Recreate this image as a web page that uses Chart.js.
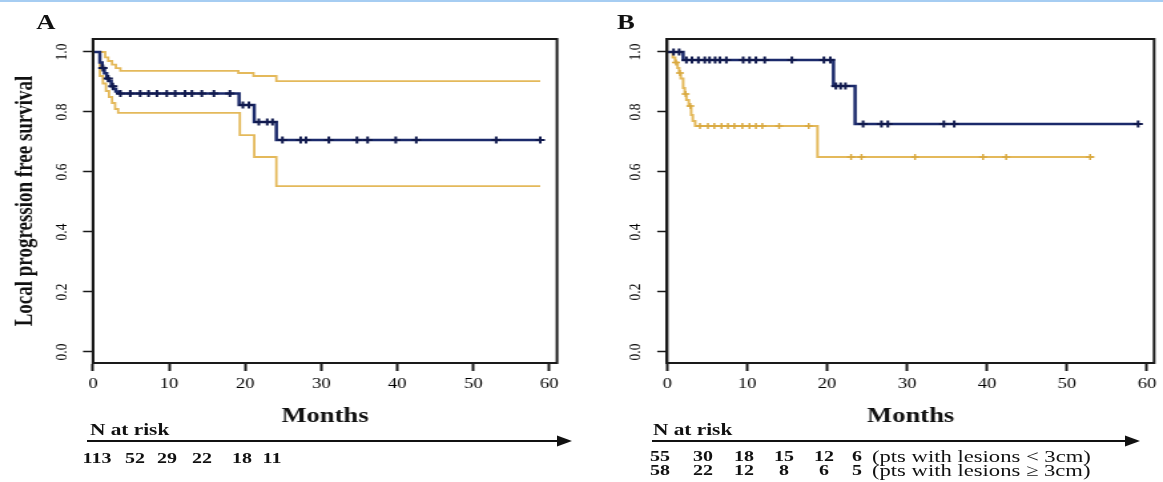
<!DOCTYPE html>
<html>
<head>
<meta charset="utf-8">
<title>Local progression free survival</title>
<script src="https://cdn.jsdelivr.net/npm/chart.js@4.4.0/dist/chart.umd.min.js"></script>
<style>
    body { margin: 0; background: #fff; }
    #page { position: relative; width: 1163px; height: 482px; overflow: hidden; background: #fff; }
    #topline { position: absolute; left: 0; top: 0; width: 1163px; height: 2px; background: #a6cdf2; }
    /* the source figure is stretched horizontally, so draw narrow and scale it out */
    #stretch { position: absolute; left: 0; top: 0; width: 874px; height: 482px; transform-origin: 0 0; }
    #stretch canvas { position: absolute; top: 0; }
    .lbl { position: absolute; white-space: nowrap; font-family: "Liberation Serif", "Times New Roman", serif; color: #111; line-height: 1; }
</style>
</head>
<body>
<div id="page">
    <div id="stretch">
        <canvas id="chartA" width="436" height="430"></canvas>
        <canvas id="chartB" width="438" height="430"></canvas>
        <svg id="arrows" width="874" height="482" style="position:absolute;left:0;top:0"></svg>
    </div>
    <div id="topline"></div>
</div>
<script>
// ---- values ----
const monthTicks = [0, 10, 20, 30, 40, 50, 60];
const survTicks = [0, 0.2, 0.4, 0.6, 0.8, 1.0];

// Panel A - all patients, KM estimate with confidence band
const aTimes = [0, 0.9, 1.2, 1.5, 1.8, 2.1, 2.4, 2.7, 3.0, 3.3, 19.2, 21.2, 24.1, 58.8];
const aSurv  = [1.0, 0.965, 0.947, 0.929, 0.912, 0.903, 0.886, 0.877, 0.868, 0.862, 0.823, 0.767, 0.707, 0.707];
const aUpperTimes = [0, 1.6, 2.0, 2.5, 3.0, 3.6, 19.1, 21.1, 24.1, 58.8];
const aUpper      = [1.0, 0.982, 0.97, 0.958, 0.946, 0.937, 0.93, 0.92, 0.903, 0.903];
const aLowerTimes = [0, 0.9, 1.3, 1.7, 2.1, 2.5, 2.9, 3.3, 19.3, 21.2, 24.1, 58.8];
const aLower      = [1.0, 0.92, 0.895, 0.87, 0.85, 0.83, 0.81, 0.797, 0.723, 0.65, 0.553, 0.553];
const aCensored = [1.3, 2.0, 2.6, 3.6, 4.9, 6.2, 7.3, 8.4, 9.7, 10.8, 12.1, 13.0, 14.3, 15.9, 18.0,
    19.7, 20.5, 21.8, 22.9, 23.6, 24.9, 27.3, 28.0, 31.0, 34.7, 36.1, 39.8, 42.5, 53.0, 58.8];

// Panel B - lesions < 3cm (navy) and >= 3cm (gold)
const smallTimes = [0, 2.0, 20.8, 23.5, 58.9];
const smallSurv  = [1.0, 0.973, 0.887, 0.76, 0.76];
const smallCensored = [0.8, 1.5, 2.4, 3.1, 3.9, 4.7, 5.3, 6.0, 6.6, 7.4, 9.5, 10.3, 11.1, 12.2, 15.6,
    19.6, 20.4, 21.1, 21.7, 22.3, 24.5, 26.8, 27.6, 34.6, 35.9, 58.9];
const largeTimes = [0, 0.7, 1.0, 1.3, 1.5, 1.7, 2.0, 2.2, 2.4, 2.7, 3.0, 3.2, 3.5, 18.8, 53.4];
const largeSurv  = [1.0, 0.982, 0.965, 0.947, 0.93, 0.912, 0.88, 0.86, 0.84, 0.82, 0.79, 0.77, 0.753, 0.65, 0.65];
const largeCensored = [1.1, 1.6, 2.3, 2.9, 4.1, 5.1, 5.9, 6.8, 7.6, 8.4, 9.4, 10.3, 11.1, 11.9, 14.0, 17.7,
    23.0, 24.3, 31.0, 39.5, 42.4, 52.9];

// numbers at risk
const riskA = [113, 52, 29, 22, 18, 11];
const riskSmall = [55, 30, 18, 15, 12, 6];
const riskLarge = [58, 22, 12, 8, 6, 5];
const groupLabels = ['(pts with lesions < 3cm)', '(pts with lesions \u2265 3cm)'];

// ---- layout (page pixels of the reference) ----
const S = 1163 / 874;              // horizontal stretch of the source figure
const u = x => x / S;              // page x -> x inside the stretched box
const SERIF = '"Liberation Serif", "Times New Roman", serif';
const NAVY = '#1b2a6b';
const GOLD = '#e4b95b';
const INK = '#1a1a1a';

document.getElementById('stretch').style.transform = 'scaleX(' + S + ')';
document.getElementById('chartB').style.left = u(580) + 'px';

function steps(times, values) {
    return times.map((t, i) => ({ x: t, y: values[i] }));
}

function survAt(times, values, t) {
    let v = values[0];
    for (let i = 0; i < times.length; i++) {
        if (times[i] <= t) v = values[i];
    }
    return v;
}

function marks(times, values, cens) {
    return cens.map(t => ({ x: t, y: survAt(times, values, t) }));
}

// box around the plot + rotated y tick labels
const framePlugin = {
    id: 'frame',
    afterDraw(chart) {
        const { ctx, chartArea } = chart;
        ctx.save();
        ctx.strokeStyle = INK;
        ctx.lineWidth = 2;
        ctx.strokeRect(chartArea.left, chartArea.top, chartArea.right - chartArea.left, chartArea.bottom - chartArea.top);

        const y = chart.scales.y;
        ctx.fillStyle = '#000';
        ctx.font = '13.5px ' + SERIF;
        ctx.textAlign = 'center';
        ctx.textBaseline = 'middle';
        y.ticks.forEach(t => {
            ctx.save();
            ctx.translate(chartArea.left - 23.5, y.getPixelForValue(t.value));
            ctx.rotate(-Math.PI / 2);
            ctx.fillText(t.value.toFixed(1), 0, 0);
            ctx.restore();
        });
        ctx.restore();
    }
};

function kmChart(id, cfg) {
    return new Chart(document.getElementById(id), {
        type: 'line',
        data: { datasets: cfg.datasets },
        options: {
            responsive: false,
            animation: false,
            layout: { padding: { left: 0, top: 39, right: cfg.padRight, bottom: 0 } },
            plugins: {
                legend: { display: false },
                tooltip: { enabled: false }
            },
            scales: {
                x: {
                    type: 'linear',
                    min: 0,
                    max: cfg.xMax,
                    afterBuildTicks: s => { s.ticks = monthTicks.map(v => ({ value: v })); },
                    afterFit: s => { s.height = 67; },
                    grid: { display: true, drawOnChartArea: false, drawTicks: true, tickLength: 8, tickWidth: 2, tickColor: INK },
                    border: { display: true, color: INK, width: 2 },
                    ticks: { font: { family: SERIF, size: 14 }, color: '#000', padding: 5, maxRotation: 0, autoSkip: false },
                    title: {
                        display: true,
                        text: 'Months',
                        font: { family: SERIF, size: 20, weight: 'bold' },
                        color: '#111',
                        padding: { top: 0, bottom: 1 }
                    }
                },
                y: {
                    type: 'linear',
                    min: -0.0367,
                    max: 1.0433,
                    afterBuildTicks: s => { s.ticks = survTicks.map(v => ({ value: v })); },
                    afterFit: s => { s.width = cfg.yWidth; },
                    grid: { display: true, drawOnChartArea: false, drawTicks: true, tickLength: 7.5, tickWidth: 1.5, tickColor: INK },
                    border: { display: true, color: INK, width: 2 },
                    ticks: { display: false },
                    title: cfg.yTitle ? {
                        display: true,
                        text: cfg.yTitle,
                        font: { family: SERIF, size: 19, weight: 'bold' },
                        color: '#111',
                        padding: { top: 7.4, bottom: 0 }
                    } : { display: false }
                }
            }
        },
        plugins: [framePlugin]
    });
}

function curve(data, color, width) {
    return { data: data, borderColor: color, borderWidth: width, stepped: true, pointRadius: 0, fill: false };
}

function censor(data, color, radius, width) {
    return {
        type: 'scatter', data: data, showLine: false, pointStyle: 'cross',
        pointRadius: radius, borderColor: color, backgroundColor: color, pointBorderWidth: width
    };
}

kmChart('chartA', {
    xMax: 61,
    yWidth: u(93),
    padRight: 436 - u(557),
    yTitle: 'Local progression free survival',
    datasets: [
        censor(marks(aTimes, aSurv, aCensored), '#111a4e', 3.5, 2),
        curve(steps(aTimes, aSurv), NAVY, 2.5),
        curve(steps(aUpperTimes, aUpper), GOLD, 1.8),
        curve(steps(aLowerTimes, aLower), GOLD, 1.8)
    ]
});

kmChart('chartB', {
    xMax: 60.9,
    yWidth: u(667 - 580),
    padRight: 438 - u(1158.3 - 580),
    yTitle: null,
    datasets: [
        censor(marks(smallTimes, smallSurv, smallCensored), '#111a4e', 3.5, 2),
        curve(steps(smallTimes, smallSurv), NAVY, 2.5),
        censor(marks(largeTimes, largeSurv, largeCensored), '#d9a940', 3, 1.5),
        curve(steps(largeTimes, largeSurv), GOLD, 2)
    ]
});

// ---- text and risk table ----
const box = document.getElementById('stretch');

function label(text, x, y, size, weight, align) {
    const el = document.createElement('div');
    el.className = 'lbl';
    el.textContent = text;
    el.style.left = u(x) + 'px';
    el.style.top = y + 'px';
    el.style.fontSize = size + 'px';
    el.style.fontWeight = weight;
    el.style.transform = align === 'center' ? 'translate(-50%, -50%)' : 'translate(0, -50%)';
    box.appendChild(el);
}

label('A', 46, 22, 20, 'bold', 'center');
label('B', 626, 22, 20, 'bold', 'center');

label('N at risk', 90, 430, 16, 'bold', 'left');
label('N at risk', 653, 430, 16, 'bold', 'left');

const colsA = [97, 135, 167, 202, 242, 272];
riskA.forEach((n, i) => label(String(n), colsA[i], 458, 15, 'bold', 'center'));

const colsB = [660, 703, 744, 784, 824, 857];
[riskSmall, riskLarge].forEach((row, r) => {
    const y = 456 + r * 14;
    row.forEach((n, i) => label(String(n), colsB[i], y, 15, 'bold', 'center'));
    label(groupLabels[r], 872, y, 17, 'normal', 'left');
});

// time arrows under each panel
const svg = document.getElementById('arrows');
const NS = 'http://www.w3.org/2000/svg';

function arrow(x1, x2, y) {
    const line = document.createElementNS(NS, 'line');
    line.setAttribute('x1', u(x1));
    line.setAttribute('x2', u(x2 - 12));
    line.setAttribute('y1', y);
    line.setAttribute('y2', y);
    line.setAttribute('stroke', '#111');
    line.setAttribute('stroke-width', 2);
    svg.appendChild(line);
    const head = document.createElementNS(NS, 'polygon');
    head.setAttribute('points', [u(x2 - 15) + ',' + (y - 5.5), u(x2) + ',' + y, u(x2 - 15) + ',' + (y + 5.5)].join(' '));
    head.setAttribute('fill', '#111');
    svg.appendChild(head);
}

arrow(87, 572, 441);
arrow(652, 1140, 441);
</script>
</body>
</html>
